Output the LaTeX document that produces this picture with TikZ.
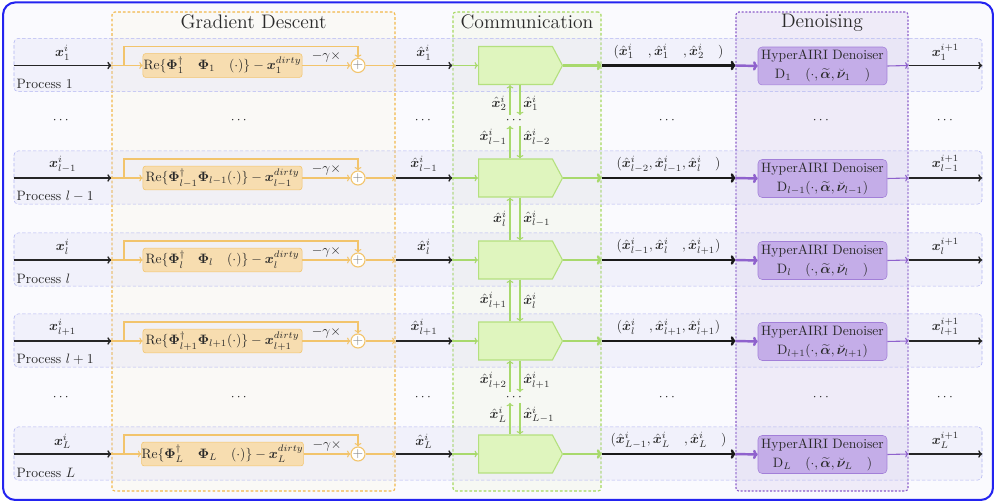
\documentclass[tikz,border=0pt]{standalone}
\usepackage{amsmath,amssymb,bm}
\usetikzlibrary{arrows.meta,shapes.symbols,calc}
\definecolor{frameblue}{HTML}{2323F0}
\definecolor{bgfill}{HTML}{FAFAFE}
\definecolor{gdline}{HTML}{F2C46C}
\definecolor{gdedge}{HTML}{F2B849}
\definecolor{gdfill}{HTML}{FAF9F6}
\definecolor{opfill}{HTML}{F7DDB0}
\definecolor{cmline}{HTML}{A8D96C}
\definecolor{cmedge}{HTML}{A6D95E}
\definecolor{cmfill}{HTML}{F6F8F3}
\definecolor{pentfill}{HTML}{DFF5BE}
\definecolor{pentedge}{HTML}{B4E07E}
\definecolor{dnline}{HTML}{8F62CD}
\definecolor{dnedge}{HTML}{8A5BC9}
\definecolor{dnfill}{HTML}{EFEBF8}
\definecolor{dnbox}{HTML}{C4ADE8}
\definecolor{dnboxedge}{HTML}{A27FD8}
\definecolor{bandline}{HTML}{B2B6F2}
\definecolor{bandfill}{HTML}{DADAF4}
\definecolor{txt}{HTML}{2A2A2A}
\tikzset{
  bigbox/.style={rounded corners=2pt, minimum height=352pt, inner sep=0pt, line width=0.8pt},
  boxtitle/.style={font=\Large, text=txt, inner sep=0pt, anchor=base},
  band/.style={draw=bandline, dash pattern=on 2.5pt off 1.5pt, fill=bandfill, fill opacity=0.28, rounded corners=3pt, minimum width=711.5pt, minimum height=39pt, inner sep=0pt},
  lbl/.style={text=txt},
  mainarrow/.style={draw=black!85, line width=1pt, -{To[length=3pt,width=5.5pt]}},
  blackthick/.style={draw=black!90, line width=1.8pt, -{To[length=3.5pt,width=7pt]}},
  gdarrow/.style={draw=gdline, line width=0.8pt, -{To[length=2.5pt,width=5pt]}},
  opbox/.style={draw=gdline, fill=opfill, rounded corners=2pt, minimum width=116.9pt, minimum height=17.6pt, inner sep=0pt, text=txt},
  sumnode/.style={circle, draw=gdline, fill=white, line width=0.8pt, minimum size=10.3pt, inner sep=0pt, text=gray, font=\normalsize},
  cmarrow/.style={draw=cmline, line width=0.8pt, -{To[length=2.5pt,width=5pt]}},
  cmthick/.style={draw=cmline, line width=1.8pt, -{To[length=3.5pt,width=7pt]}},
  pent/.style={signal, signal to=east, signal pointer angle=124, draw=pentedge, fill=pentfill, line width=0.8pt, minimum width=61.7pt, minimum height=27.9pt, inner sep=0pt, anchor=west},
  dnthick/.style={draw=dnline, line width=1.8pt, -{To[length=3.5pt,width=7pt]}},
  dnarrow/.style={draw=dnline, line width=0.8pt, -{To[length=2.5pt,width=5pt]}},
  dnnode/.style={draw=dnboxedge, fill=dnbox, rounded corners=3pt, minimum width=94.8pt, minimum height=27.9pt, inner sep=1pt, align=center, text=txt},
  dotsnode/.style={inner sep=1.5pt, text=txt},
  proc/.style={anchor=south west, inner sep=2pt, text=txt},
}
% #1 id, #2 y, #3 subscript, #4 padded subscript, #5 tuple, #6 process label
\newcommand\myrow[6]{%
  \coordinate (r#1) at (0,#2);
  \coordinate (br#1) at (124,#2);
  \node[band] (band#1) at (498,#2-0.5) {};
  \node[proc] (pl#1) at (band#1.south west) {#6};
  \draw[mainarrow] (band#1.west |- r#1) -- node[above, lbl] {$\bm{x}_{#3}^{i}$} (gd.west |- r#1);
  \node[opbox] (op#1) at (222.5,#2) {$\mathrm{Re}\{\bm{\Phi}_{#4}^{\dagger}\bm{\Phi}_{#4}(\cdot)\}-\bm{x}_{#3}^{dirty}$};
  \node[sumnode] (s#1) at (358,#2) {$+$};
  \draw[gdarrow] (gd.west |- r#1) -- (op#1.west);
  \draw[gdarrow] (br#1) -- ++(0,-19) -| (s#1.north);
  \draw[gdarrow] (op#1.east) -- node[above, lbl, inner sep=2pt] {$-\gamma\times$} (s#1.west);
  \draw[gdarrow] (s#1.east) -- (gd.east |- r#1);
  \draw[mainarrow] (gd.east |- r#1) -- node[above, lbl] {$\hat{\bm{x}}_{#3}^{i}$} (cm.west |- r#1);
  \node[pent] (p#1) at (478,#2) {};
  \draw[cmarrow] (cm.west |- r#1) -- (p#1.west);
  \draw[cmthick] (p#1.east) -- (cm.east |- r#1);
  \draw[blackthick] (cm.east |- r#1) -- node[above, lbl] {#5} (dn.west |- r#1);
  \node[dnnode] (d#1) at (822.5,#2+0.5) {HyperAIRI Denoiser\\[2pt]$\mathrm{D}_{#4}(\cdot,\widetilde{\bm{\alpha}},\breve{\bm{\nu}}_{#4})$};
  \draw[dnthick] (dn.west |- r#1) -- (d#1.west);
  \draw[dnarrow] (d#1.east) -- (dn.east |- r#1);
  \draw[mainarrow] (dn.east |- r#1) -- node[above, lbl] {$\bm{x}_{#3}^{i+1}$} (band#1.east |- r#1);
}
% #1 upper, #2 lower, #3 left sub, #4 right sub, #5 pos up, #6 pos down
\newcommand\vpair[6]{%
  \draw[cmarrow] (cu |- #2.north) -- node[pos=#5, left, lbl, inner sep=2pt] {$\hat{\bm{x}}_{#3}^{i}$} (cu |- #1.south);
  \draw[cmarrow] (cd |- #1.south) -- node[pos=#6, right, lbl, inner sep=2pt] {$\hat{\bm{x}}_{#4}^{i}$} (cd |- #2.north);
}
\begin{document}
\begin{tikzpicture}[x=0.735pt,y=-0.735pt]
\useasboundingbox (0,0) rectangle (996,502);
\node[draw=frameblue, line width=1.5pt, fill=bgfill, rounded corners=9pt, minimum width=727.6pt, minimum height=365.7pt, inner sep=0pt] (frame) at (498,251.2) {};
\node[bigbox, draw=gdedge, fill=gdfill, dash pattern=on 2pt off 1.5pt, minimum width=208pt] (gd) at (253.5,251.5) {};
\node[bigbox, draw=cmedge, fill=cmfill, dash pattern=on 2pt off 1.5pt, minimum width=108.8pt] (cm) at (527,251.5) {};
\node[bigbox, draw=dnedge, fill=dnfill, dash pattern=on 1.5pt off 1.2pt, minimum width=126.4pt] (dn) at (822,251.5) {};
\node[boxtitle] (gdt) at (253.5,29) {Gradient Descent};
\node[boxtitle] (cmt) at (527,29) {Communication};
\node[boxtitle] (dnt) at (822,28) {Denoising};
\coordinate (cu) at (510,0);
\coordinate (cd) at (520,0);

\myrow{1}{65.5}{1}{1\phantom{-1}}{$(\hat{\bm{x}}_{1\phantom{-1}}^{i},\hat{\bm{x}}_{1\phantom{-1}}^{i},\hat{\bm{x}}_{2\phantom{-1}}^{i})$}{Process 1}
\myrow{2}{178}{l-1}{l-1}{$(\hat{\bm{x}}_{l-2}^{i},\hat{\bm{x}}_{l-1}^{i},\hat{\bm{x}}_{l\phantom{-1}}^{i})$}{Process $l-1$}
\myrow{3}{260}{l}{l\phantom{-1}}{$(\hat{\bm{x}}_{l-1}^{i},\hat{\bm{x}}_{l\phantom{-1}}^{i},\hat{\bm{x}}_{l+1}^{i})$}{Process $l$}
\myrow{4}{341}{l+1}{l+1}{$(\hat{\bm{x}}_{l\phantom{+1}}^{i},\hat{\bm{x}}_{l+1}^{i},\hat{\bm{x}}_{l+1}^{i})$}{Process $l+1$}
\myrow{5}{454}{L}{L\phantom{-1}}{$(\hat{\bm{x}}_{L-1}^{i},\hat{\bm{x}}_{L\phantom{-1}}^{i},\hat{\bm{x}}_{L\phantom{-1}}^{i})$}{Process $L$}

\foreach \k/\yy in {1/120.5, 2/397.5}{
  \node[dotsnode] (dl\k) at (62,\yy) {$\cdots$};
  \node[dotsnode] (dg\k) at (240,\yy) {$\cdots$};
  \node[dotsnode] (dh\k) at (424,\yy) {$\cdots$};
  \node[dotsnode] (dc\k) at (515,\yy) {$\cdots$};
  \node[dotsnode] (dt\k) at (668,\yy) {$\cdots$};
  \node[dotsnode] (dd\k) at (822,\yy) {$\cdots$};
  \node[dotsnode] (do\k) at (946,\yy) {$\cdots$};
}

\vpair{p1}{dc1}{2}{1}{0.4}{0.6}
\vpair{dc1}{p2}{l-1}{l-2}{0.64}{0.36}
\vpair{p2}{p3}{l}{l-1}{0.5}{0.5}
\vpair{p3}{p4}{l+1}{l}{0.5}{0.5}
\vpair{p4}{dc2}{l+2}{l+1}{0.37}{0.63}
\vpair{dc2}{p5}{L}{L-1}{0.62}{0.38}
\end{tikzpicture}
\end{document}
